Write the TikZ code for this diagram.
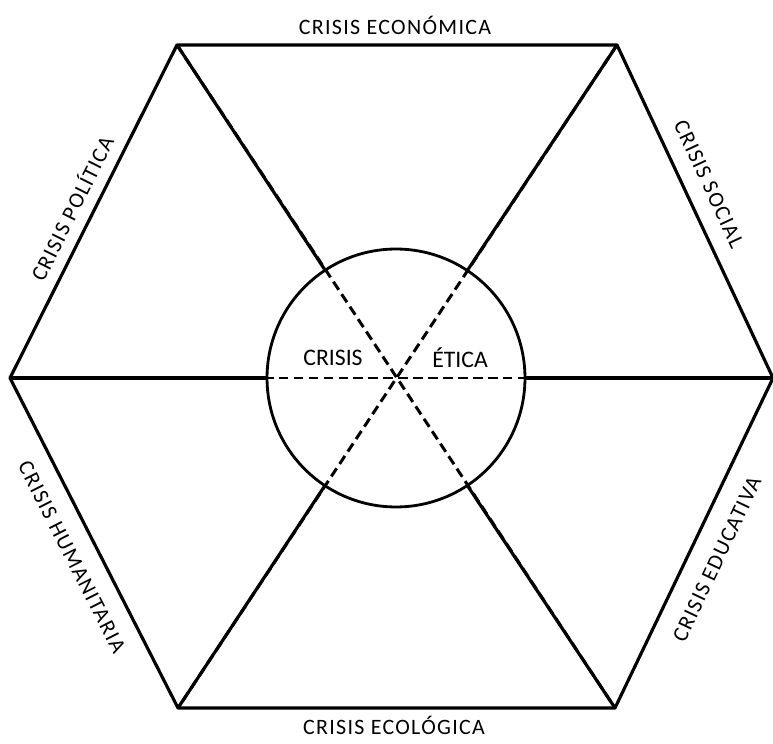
\documentclass[tikz,border=0pt]{standalone}
\usepackage{fontspec}
\setmainfont{Carlito}
\newfontfamily\sidefont[LetterSpace=6]{Carlito}
\usetikzlibrary{positioning}

\begin{document}
\begin{tikzpicture}[
  x=0.02cm, y=0.02cm,
  edge/.style={line width=1.8pt, line join=round},
  inside/.style={line width=1.7pt, dash pattern=on 5.5pt off 3pt},
  core/.style={circle, draw, line width=1.6pt, minimum size=5.16cm, inner sep=0pt},
  side/.style={font=\sidefont\fontsize{12.5}{14}\selectfont, inner sep=0pt},
  word/.style={font=\fontsize{13.5}{15}\selectfont, inner sep=0pt}
]
\useasboundingbox (0,0) rectangle (773,743);
\coordinate (l) at (10,365);
\coordinate (tl) at (177,698);
\coordinate (tr) at (617,698);
\coordinate (r) at (773,365);
\coordinate (br) at (615,35);
\coordinate (bl) at (178,35);
\node[core] (etica) at (396,365) {};
\draw[inside] (l) -- (r);
\draw[inside] (tl) -- (br);
\draw[inside] (tr) -- (bl);
\draw[edge] (l) -- (tl) -- (tr) -- (r) -- (br) -- (bl) -- cycle;
\draw[edge] (l) -- (etica);
\draw[edge] (etica) -- (r);
\draw[edge] (tl) -- (etica);
\draw[edge] (etica) -- (br);
\draw[edge] (tr) -- (etica);
\draw[edge] (etica) -- (bl);
\node[side] (economica) at (395,718) {CRISIS ECONÓMICA};
\node[side] (ecologica) at (394,18) {CRISIS ECOLÓGICA};
\node[side, rotate=63.4] (politica) at (71,535) {CRISIS POLÍTICA};
\node[side, rotate=-65] (social) at (709,559) {CRISIS SOCIAL};
\node[side, rotate=-63] (humanitaria) at (72,186) {CRISIS HUMANITARIA};
\node[side, rotate=64.6] (educativa) at (717,184) {CRISIS EDUCATIVA};
\node[word] (crisis) at (333,385) {CRISIS};
\node[word] (eticatext) at (460,385) {ÉTICA};
\end{tikzpicture}
\end{document}
